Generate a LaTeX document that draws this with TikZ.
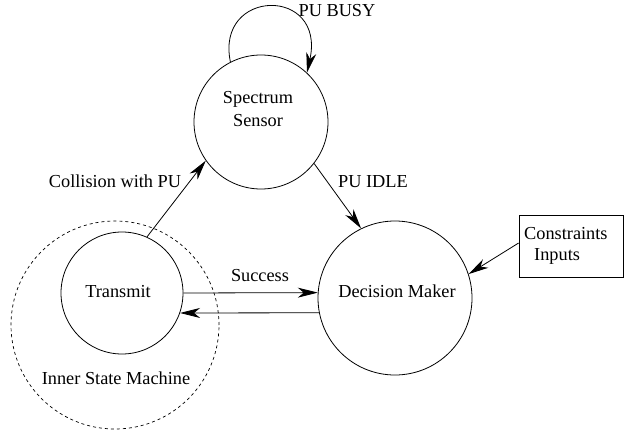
\documentclass[tikz,border=0pt]{standalone}
\usepackage{fontspec}
\setmainfont{Liberation Serif}
\usetikzlibrary{arrows.meta}
\begin{document}
\begin{tikzpicture}[x=1pt,y=-1pt,
  every node/.style={font=\fontsize{18.3}{24}\selectfont, inner sep=0pt},
  state/.style={draw, circle, line width=0.8pt},
  txt/.style={text height=12pt, text depth=4pt},
  arr/.style={line width=0.8pt, -{Stealth[length=20pt,width=10pt,inset=6pt]}},
  box/.style={draw, rectangle, line width=0.8pt, minimum width=104pt, minimum height=62pt}]
\useasboundingbox (0,0) rectangle (636,433);
% states
\node[state, minimum size=134pt] (ss) at (261,122) {};
\node[state, minimum size=154pt] (dm) at (395,298) {};
\node[state, minimum size=122pt] (tr) at (122,293) {};
\node[draw, circle, dashed, line width=0.7pt, minimum size=208pt] (ism) at (115,325) {};
\node[box] (ci) at (571,246) {};
% texts
\node[align=center] (sst) at (258,109) {Spectrum\\[-1pt]Sensor};
\node[txt] (dmt) at (397,293) {Decision Maker};
\node[txt] (trt) at (118,293) {Transmit};
\node[txt] (ismt) at (116,380) {Inner State Machine};
\node[align=left, anchor=west] (cit) at (524,246) {Constraints\\[-3pt]\hspace{10pt}Inputs};
\node[txt] (busy) at (337,13) {PU BUSY};
\node[txt] (coll) at (115,183) {Collision with PU};
\node[txt] (idle) at (373,183) {PU IDLE};
\node[txt] (succ) at (260,277) {Success};
% connectors
\draw[arr] (ss.117.3) .. controls (215,-12) and (326,-14) .. (ss.47.8);
\draw[arr] (tr.66.7) -- (ss.215.3);
\draw[arr] (ss.-38.9) -- (dm.116.6);
\draw[arr] (tr.east) -- (dm.176.3);
\draw[arr] (dm.191.2) -- (tr.-19.1);
\draw[arr] ([yshift=3pt]ci.west) -- (dm.18);
\end{tikzpicture}
\end{document}
